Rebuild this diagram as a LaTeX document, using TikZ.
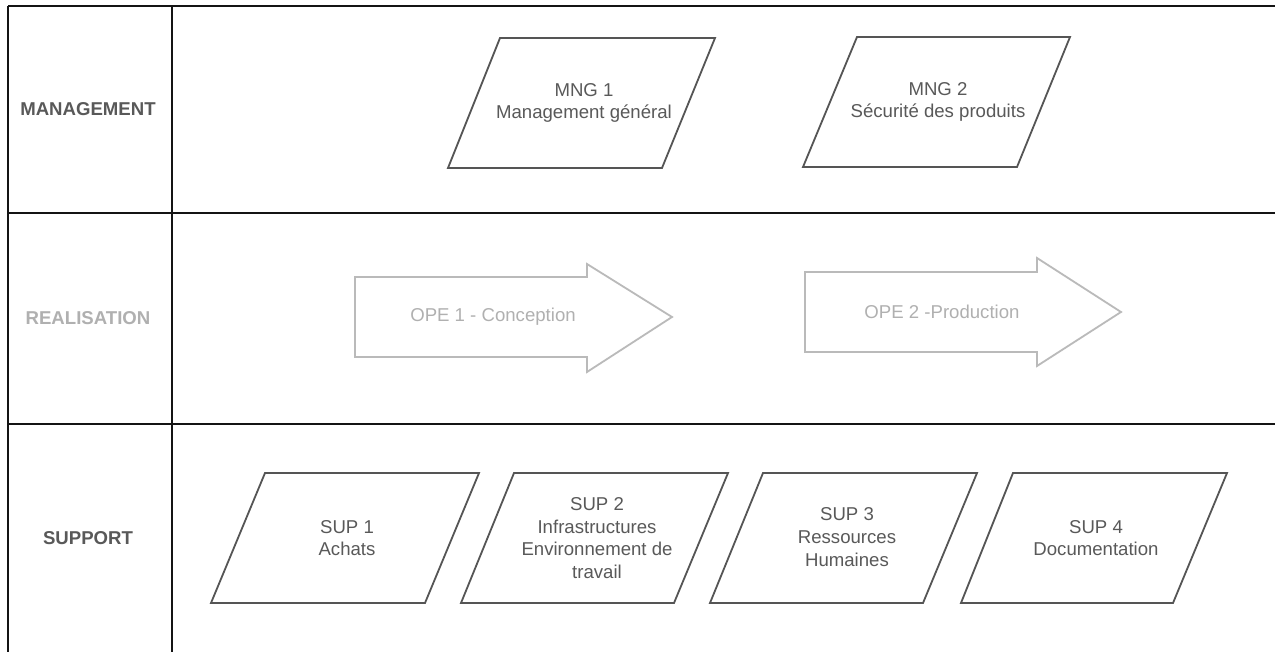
\documentclass[tikz,border=0pt]{standalone}
\usepackage{fontspec}
\setmainfont{Liberation Sans}
\definecolor{labeldark}{HTML}{595959}
\definecolor{labellight}{HTML}{B0B0B0}
\definecolor{paraline}{HTML}{555555}
\definecolor{arrowline}{HTML}{BABABA}
\begin{document}
\begin{tikzpicture}[x=1pt,y=-1pt,
  frameline/.style={line width=2.1pt, draw=black!92},
  lanelabel/.style={font=\bfseries\fontsize{18.6}{22}\selectfont, text=labeldark},
  procbox/.style={draw=paraline, line width=1.8pt, line join=miter},
  boxtext/.style={align=center, font=\fontsize{18.6}{22.7}\selectfont, text=labeldark, inner sep=0pt},
  opearrow/.style={draw=arrowline, line width=1.8pt, line join=miter},
  opetext/.style={font=\fontsize{18.6}{22.7}\selectfont, text=labellight, inner sep=0pt}]
\useasboundingbox (0,0) rectangle (1275,652);
\fill[white] (0,0) rectangle (1275,652);

% swimlane grid
\draw[frameline] (8,6) -- (1275,6);
\draw[frameline] (8,6) -- (8,652);
\draw[frameline] (172,6) -- (172,652);
\draw[frameline] (8,213) -- (1275,213);
\draw[frameline] (8,424) -- (1275,424);

% lane titles
\node[lanelabel] (lmng) at (88,109) {MANAGEMENT};
\node[lanelabel, text=labellight] (lrea) at (88,318) {REALISATION};
\node[lanelabel] (lsup) at (88,538) {SUPPORT};

% management processes
\draw[procbox] (448,168) -- (500,38) -- (715,38) -- (662,168) -- cycle;
\node[boxtext] (mng1) at (584,103) {MNG 1\\Management général};
\draw[procbox] (803,167) -- (857,37) -- (1070,37) -- (1017,167) -- cycle;
\node[boxtext] (mng2) at (938,102) {MNG 2\\Sécurité des produits};

% operational processes
\draw[opearrow] (355,277) -- (587,277) -- (587,264) -- (672,317) -- (587,372) -- (587,357) -- (355,357) -- cycle;
\node[opetext] (ope1) at (493,317) {OPE 1 - Conception};
\draw[opearrow] (805,272) -- (1037,272) -- (1037,258) -- (1121,312) -- (1037,366) -- (1037,352) -- (805,352) -- cycle;
\node[opetext] (ope2) at (942,312) {OPE 2 -Production};

% support processes
\draw[procbox] (211,603) -- (265,473) -- (479,473) -- (425,603) -- cycle;
\node[boxtext] (sup1) at (347,538) {SUP 1\\Achats};
\draw[procbox] (461,603) -- (514,473) -- (728,473) -- (674,603) -- cycle;
\node[boxtext] (sup2) at (597,538) {SUP 2\\Infrastructures\\Environnement de\\travail};
\draw[procbox] (710,603) -- (763,473) -- (977,473) -- (923,603) -- cycle;
\node[boxtext] (sup3) at (847,537) {SUP 3\\Ressources\\Humaines};
\draw[procbox] (961,603) -- (1013,473) -- (1227,473) -- (1173,603) -- cycle;
\node[boxtext] (sup4) at (1096,538) {SUP 4\\Documentation};
\end{tikzpicture}
\end{document}
